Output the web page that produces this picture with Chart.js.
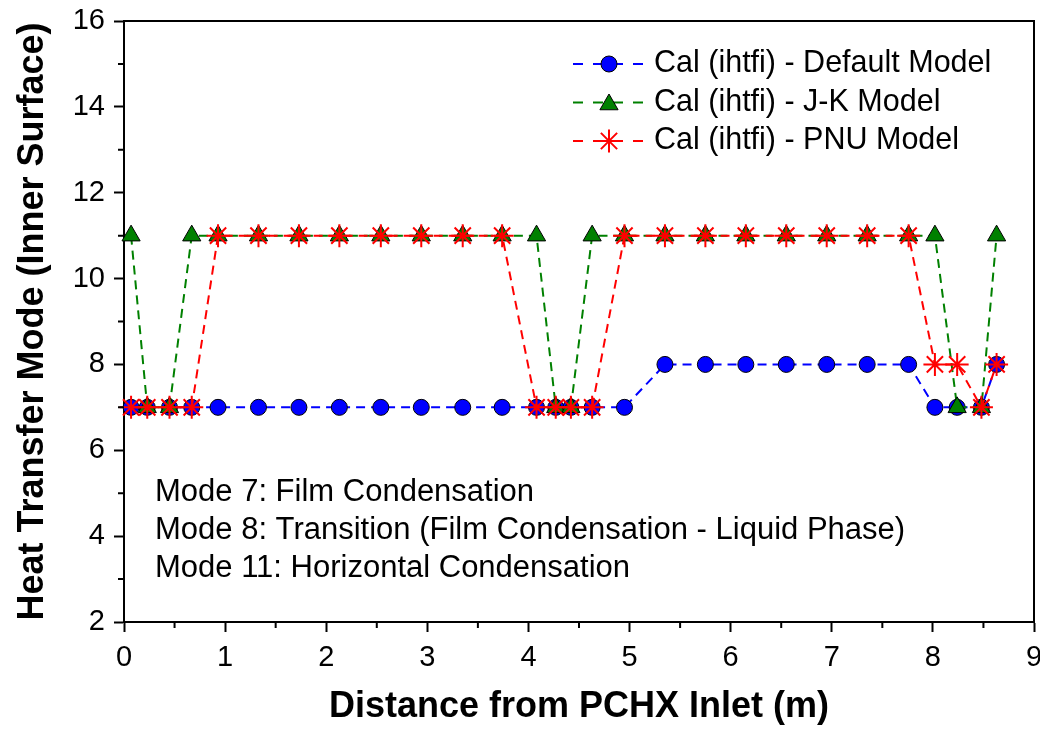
<!DOCTYPE html>
<html lang="en">
<head>
    <meta charset="UTF-8">
    <title>Heat Transfer Mode</title>
    <script src="https://cdn.jsdelivr.net/npm/chart.js"></script>
    <style>
        html, body {
            margin: 0;
            overflow: hidden;
            background: #fff;
        }
        .wrap {
            width: 1040px;
            height: 730px;
        }
        canvas {
            display: block;
        }
    </style>
</head>
<body>
    <div class="wrap">
        <canvas id="modeChart" width="1040" height="730"></canvas>
    </div>

    <script>
        // distance from inlet (m), shared by all three series
        const distance = [0.07, 0.23, 0.45, 0.67, 0.93, 1.33, 1.73, 2.13, 2.54, 2.94, 3.35, 3.74, 4.08, 4.27,
                          4.42, 4.63, 4.95, 5.35, 5.75, 6.15, 6.55, 6.95, 7.35, 7.76, 8.02, 8.24, 8.48, 8.63];
        const defaultModel = [7, 7, 7, 7, 7, 7, 7, 7, 7, 7, 7, 7, 7, 7, 7, 7, 7, 8, 8, 8, 8, 8, 8, 8, 7, 7, 7, 8];
        const jkModel      = [11, 7, 7, 11, 11, 11, 11, 11, 11, 11, 11, 11, 11, 7, 7, 11, 11, 11, 11, 11, 11, 11, 11, 11, 11, 7, 7, 11];
        const pnuModel     = [7, 7, 7, 7, 11, 11, 11, 11, 11, 11, 11, 11, 7, 7, 7, 7, 11, 11, 11, 11, 11, 11, 11, 11, 8, 8, 7, 8];

        const seriesNames = ['Cal (ihtfi) - Default Model', 'Cal (ihtfi) - J-K Model', 'Cal (ihtfi) - PNU Model'];
        const modeNotes = [
            'Mode 7: Film Condensation',
            'Mode 8: Transition (Film Condensation - Liquid Phase)',
            'Mode 11: Horizontal Condensation'
        ];
        const xTicks = [0, 1, 2, 3, 4, 5, 6, 7, 8, 9];
        const yTicks = [2, 4, 6, 8, 10, 12, 14, 16];

        function toPoints(ys) {
            return distance.map((x, i) => ({ x: x, y: ys[i] }));
        }

        const FONT = "'Liberation Sans', Arial, sans-serif";

        // minor ticks + frame on top and right
        const framePlugin = {
            id: 'frame',
            afterDraw(chart) {
                const { ctx, chartArea: a, scales } = chart;
                ctx.save();
                ctx.strokeStyle = '#000';
                ctx.lineWidth = 2;
                ctx.beginPath();
                ctx.moveTo(a.left, a.top);
                ctx.lineTo(a.right, a.top);
                ctx.lineTo(a.right, a.bottom);
                ctx.stroke();
                ctx.beginPath();
                for (let v = 0.5; v < 9; v += 1) {
                    const px = scales.x.getPixelForValue(v);
                    ctx.moveTo(px, a.bottom);
                    ctx.lineTo(px, a.bottom + 6);
                }
                for (let v = 3; v < 16; v += 2) {
                    const py = scales.y.getPixelForValue(v);
                    ctx.moveTo(a.left, py);
                    ctx.lineTo(a.left - 6, py);
                }
                ctx.stroke();
                ctx.restore();
            }
        };

        const notesPlugin = {
            id: 'notes',
            afterDraw(chart) {
                const ctx = chart.ctx;
                ctx.save();
                ctx.fillStyle = '#000';
                ctx.font = '31px ' + FONT;
                ctx.textBaseline = 'middle';
                ctx.textAlign = 'left';
                modeNotes.forEach((t, i) => ctx.fillText(t, 155, 492 + i * 38));
                ctx.restore();
            }
        };

        const legendPlugin = {
            id: 'legendBox',
            afterDraw(chart) {
                const ctx = chart.ctx;
                ctx.save();
                chart.data.datasets.forEach((ds, i) => {
                    const y = 64 + i * 38.5;
                    ctx.strokeStyle = ds.borderColor;
                    ctx.lineWidth = ds.borderWidth;
                    ctx.setLineDash([10, 10]);
                    ctx.beginPath();
                    ctx.moveTo(573, y);
                    ctx.lineTo(645, y);
                    ctx.stroke();
                    ctx.setLineDash([]);
                    ctx.fillStyle = ds.pointBackgroundColor;
                    ctx.strokeStyle = ds.pointBorderColor;
                    ctx.lineWidth = ds.pointBorderWidth;
                    Chart.helpers.drawPoint(ctx, {
                        pointStyle: ds.pointStyle,
                        radius: ds.pointRadius,
                        borderWidth: ds.pointBorderWidth,
                        rotation: 0
                    }, 609, y + (ds.pointStyle === 'triangle' ? 2 : 0));
                    ctx.fillStyle = '#000';
                    ctx.font = '30.5px ' + FONT;
                    ctx.textBaseline = 'middle';
                    ctx.fillText(ds.label, 654, y);
                });
                ctx.restore();
            }
        };

        const ctx = document.getElementById('modeChart').getContext('2d');
        new Chart(ctx, {
            type: 'scatter',
            data: {
                datasets: [
                    {
                        label: seriesNames[0], data: toPoints(defaultModel), order: 3,
                        showLine: true, borderColor: '#0000FF', borderWidth: 2, borderDash: [9, 6],
                        pointStyle: 'circle', pointRadius: 8, pointBackgroundColor: '#0000FF',
                        pointBorderColor: '#000', pointBorderWidth: 1, clip: false
                    },
                    {
                        label: seriesNames[1], data: toPoints(jkModel), order: 2,
                        showLine: true, borderColor: '#008000', borderWidth: 2, borderDash: [9, 6],
                        pointStyle: 'triangle', pointRadius: 10.5, pointBackgroundColor: '#008000',
                        pointBorderColor: '#000', pointBorderWidth: 1, clip: false
                    },
                    {
                        label: seriesNames[2], data: toPoints(pnuModel), order: 1,
                        showLine: true, borderColor: '#FF0000', borderWidth: 2, borderDash: [9, 6],
                        pointStyle: 'star', pointRadius: 11.5, pointBackgroundColor: '#FF0000',
                        pointBorderColor: '#FF0000', pointBorderWidth: 2, clip: false
                    }
                ]
            },
            options: {
                responsive: false,
                animation: false,
                layout: { autoPadding: false, padding: { top: 21, right: 6, left: 0, bottom: 0 } },
                plugins: {
                    legend: { display: false },
                    tooltip: { enabled: false }
                },
                scales: {
                    x: {
                        type: 'linear', min: 0, max: 9,
                        afterBuildTicks: s => { s.ticks = xTicks.map(v => ({ value: v })); },
                        afterFit: s => { s.height = 108; },
                        afterUpdate: s => { s.paddingLeft = 0; s.paddingRight = 0; },
                        ticks: { color: '#000', font: { family: FONT, size: 29 }, padding: 9, maxRotation: 0 },
                        grid: { drawOnChartArea: false, tickLength: 10, tickColor: '#000', tickWidth: 2 },
                        border: { color: '#000', width: 2 },
                        title: {
                            display: true, text: 'Distance from PCHX Inlet (m)', color: '#000',
                            font: { family: FONT, size: 36, weight: 'bold' }, padding: { top: 0, bottom: 1 }
                        }
                    },
                    y: {
                        min: 2, max: 16,
                        afterBuildTicks: s => { s.ticks = yTicks.map(v => ({ value: v })); },
                        afterFit: s => { s.width = 124; },
                        afterUpdate: s => { s.paddingTop = 0; s.paddingBottom = 0; },
                        ticks: { color: '#000', font: { family: FONT, size: 29 }, padding: 9 },
                        grid: { drawOnChartArea: false, tickLength: 10, tickColor: '#000', tickWidth: 2 },
                        border: { color: '#000', width: 2 },
                        title: {
                            display: true, text: 'Heat Transfer Mode (Inner Surface)', color: '#000',
                            font: { family: FONT, size: 36, weight: 'bold' }, padding: { top: 11, bottom: 0 }
                        }
                    }
                }
            },
            plugins: [framePlugin, notesPlugin, legendPlugin]
        });
    </script>
</body>
</html>
